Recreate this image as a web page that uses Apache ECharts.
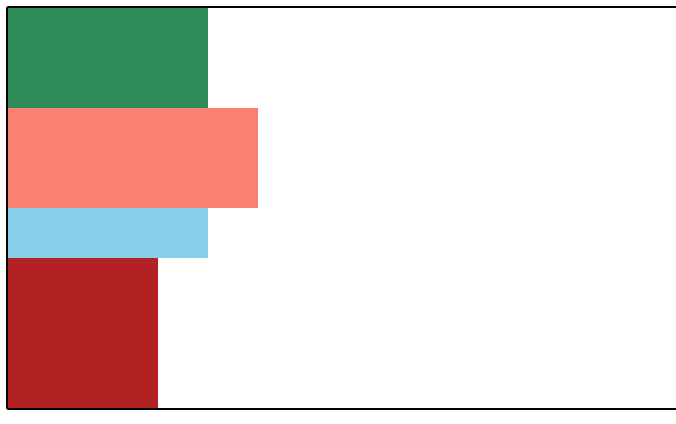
<!DOCTYPE html>
<html>
<head>
<meta charset="utf-8">
<script src="https://cdn.jsdelivr.net/npm/echarts@6/dist/echarts.min.js"></script>
<style>
  html, body { margin: 0; padding: 0; background: #fff; }
  #chart { width: 676px; height: 424px; }
</style>
</head>
<body>
<div id="chart"></div>
<script>
// bar lengths and thicknesses, in axis units
const lengths = [4, 5, 4, 3];
const thickness = [2, 2, 1, 3];
const colors = ['#2E8B57', '#FA8072', '#87CEEB', '#B22222'];

const rows = [];
let pos = 0;
for (let i = 0; i < lengths.length; i++) {
    rows.push([lengths[i], pos, pos + thickness[i], i]);
    pos += thickness[i];
}

const chart = echarts.init(document.getElementById('chart'), null, { renderer: 'canvas' });

const hidden = { axisTick: { show: false }, axisLabel: { show: false }, splitLine: { show: false } };
const line = { show: true, onZero: false, lineStyle: { color: '#000', width: 2 } };

chart.setOption({
    animation: false,
    grid: { left: 8, top: 8, width: 700, height: 400, outerBoundsMode: 'none', containLabel: false },
    xAxis: [
        Object.assign({ type: 'value', min: 0, max: 14, position: 'bottom', offset: 1, axisLine: line }, hidden),
        Object.assign({ type: 'value', min: 0, max: 14, position: 'top', offset: 1, axisLine: line }, hidden)
    ],
    yAxis: Object.assign({ type: 'value', min: 0, max: 8, inverse: true, offset: 1, axisLine: line }, hidden),
    series: [{
        type: 'custom',
        renderItem: function (params, api) {
            const p0 = api.coord([0, api.value(1)]);
            const p1 = api.coord([api.value(0), api.value(2)]);
            return {
                type: 'rect',
                shape: { x: p0[0], y: p0[1], width: p1[0] - p0[0], height: p1[1] - p0[1] },
                style: { fill: colors[api.value(3)] }
            };
        },
        encode: { x: 0, y: [1, 2] },
        data: rows
    }]
});
</script>
</body>
</html>
